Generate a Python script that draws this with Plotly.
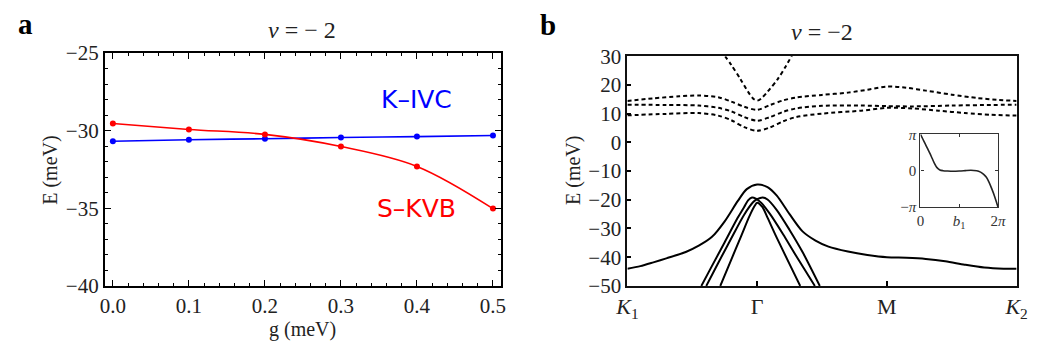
import plotly.graph_objects as go

# ---------------- Panel a data ----------------
g_vals = [0.0, 0.1, 0.2, 0.3, 0.4, 0.5]
kivc_E = [-30.68, -30.58, -30.52, -30.44, -30.38, -30.31]
skvb_E = [-29.54, -29.92, -30.24, -31.02, -32.30, -35.02]

# ---------------- Panel b data (k path: K1=0, Gamma=1, M=2, K2=3) ----------------
# dashed (empty) bands
cV_k = [0.72, 0.80, 0.87, 0.93, 0.97, 1.0, 1.03, 1.08, 1.16, 1.22, 1.29]
cV_E = [32.0, 27.0, 22.1, 17.6, 15.2, 14.5, 15.2, 17.6, 22.1, 26.4, 32.0]

c1_k = [0, 0.2, 0.4, 0.55, 0.7, 0.8, 0.9, 1.0, 1.1, 1.2, 1.3, 1.5, 1.7, 1.85, 2.0, 2.15, 2.3, 2.5, 2.7, 2.85, 3.0]
c1_E = [14.4, 15.3, 16.0, 16.3, 15.7, 14.2, 12.4, 11.3, 13.0, 14.6, 15.6, 16.5, 17.3, 18.3, 19.4, 19.0, 18.0, 16.6, 15.4, 14.8, 14.4]

c2_k = [0, 0.3, 0.55, 0.7, 0.8, 0.9, 1.0, 1.1, 1.2, 1.3, 1.5, 1.8, 2.0, 2.2, 2.5, 2.8, 3.0]
c2_E = [13.1, 13.0, 12.8, 12.0, 10.8, 8.8, 7.5, 8.8, 10.6, 11.8, 12.7, 12.8, 12.6, 12.5, 12.8, 13.0, 13.1]

c3_k = [0, 0.3, 0.55, 0.7, 0.8, 0.9, 1.0, 1.1, 1.2, 1.3, 1.5, 1.8, 2.0, 2.2, 2.4, 2.6, 2.8, 3.0]
c3_E = [9.4, 9.9, 10.2, 9.3, 7.7, 5.3, 4.0, 5.2, 7.3, 8.8, 10.0, 11.0, 12.0, 11.8, 11.0, 10.2, 9.6, 9.3]

# solid (filled) bands
v1_k = [0, 0.1, 0.2, 0.3, 0.45, 0.55, 0.65, 0.75, 0.85, 0.92, 1.0, 1.08, 1.15, 1.25, 1.35, 1.45,
        1.55, 1.7, 1.85, 2.0, 2.15, 2.3, 2.45, 2.6, 2.75, 2.9, 3.0]
v1_E = [-44.0, -43.1, -41.8, -40.4, -38.2, -36.0, -33.0, -27.5, -20.5, -16.3, -14.7, -15.6, -18.5, -25.0,
        -31.0, -34.2, -36.3, -38.0, -39.2, -40.0, -40.2, -40.6, -41.4, -42.6, -43.6, -44.0, -44.0]

v2_k = [0.570, 0.65, 0.75, 0.85, 0.90, 0.93, 0.96, 0.99, 1.03, 1.10, 1.20, 1.30, 1.445]
v2_E = [-50.0, -43.2, -34.8, -26.3, -22.5, -20.2, -19.2, -19.6, -21.0, -25.0, -32.0, -39.5, -50.0]

v3_k = [0.608, 0.70, 0.80, 0.90, 0.97, 1.0, 1.043, 1.08, 1.15, 1.25, 1.35, 1.483]
v3_E = [-50.0, -42.0, -33.5, -25.2, -20.8, -19.8, -19.2, -19.9, -23.5, -30.5, -38.2, -50.0]

v4_k = [0.716, 0.80, 0.88, 0.94, 0.98, 1.0, 1.04, 1.08, 1.15, 1.25, 1.332]
v4_E = [-50.0, -40.9, -32.3, -25.8, -22.2, -21.0, -22.5, -26.2, -33.1, -42.4, -50.0]

# inset (Wilson loop), x in units of pi, y in units of pi
w_x = [0, 0.06, 0.12, 0.18, 0.24, 0.30, 0.36, 0.42, 0.50, 0.58, 0.70, 0.85, 1.0, 1.15, 1.3, 1.45,
       1.55, 1.63, 1.70, 1.77, 1.84, 1.91, 1.97, 2.0]
w_y = [1.0, 0.87, 0.74, 0.61, 0.48, 0.34, 0.20, 0.09, 0.02, 0.0, -0.01, -0.015, -0.01, 0.0, 0.01, 0.0,
       -0.04, -0.10, -0.18, -0.32, -0.50, -0.70, -0.90, -1.0]

kpath_vals = [0, 1, 2, 3]
kpath_text = ["<i>K</i><sub>1</sub>", "Γ", "M", "<i>K</i><sub>2</sub>"]

W, H = 1041, 360
SERIF = "Liberation Serif"
TXT = "#222"

def px_x(v):
    return v / W

def px_y(v):
    return 1 - v / H

fig = go.Figure()

# Panel a traces
fig.add_trace(go.Scatter(x=g_vals, y=kivc_E, mode="lines+markers", line=dict(color="#0000ff", width=1.6, shape="spline"),
                         marker=dict(color="#0000ff", size=6), xaxis="x", yaxis="y", showlegend=False))
fig.add_trace(go.Scatter(x=g_vals, y=skvb_E, mode="lines+markers", line=dict(color="#ff0000", width=1.6, shape="spline"),
                         marker=dict(color="#ff0000", size=6), xaxis="x", yaxis="y", showlegend=False))

# Panel b traces
dash = "4px,3px"
for kk, ee in [(cV_k, cV_E), (c1_k, c1_E), (c2_k, c2_E), (c3_k, c3_E)]:
    fig.add_trace(go.Scatter(x=kk, y=ee, mode="lines", line=dict(color="black", width=2, dash=dash, shape="spline", smoothing=0.8),
                             xaxis="x2", yaxis="y2", showlegend=False))
for kk, ee in [(v1_k, v1_E), (v2_k, v2_E), (v3_k, v3_E), (v4_k, v4_E)]:
    fig.add_trace(go.Scatter(x=kk, y=ee, mode="lines", line=dict(color="black", width=2, shape="spline", smoothing=0.8),
                             xaxis="x2", yaxis="y2", showlegend=False))

# Inset
fig.add_trace(go.Scatter(x=w_x, y=w_y, mode="lines", line=dict(color="#222", width=1.6, shape="spline", smoothing=0.8),
                         xaxis="x3", yaxis="y3", showlegend=False))

tickfont = dict(family=SERIF, size=21, color=TXT)

fig.update_layout(
    width=W, height=H, margin=dict(l=0, r=0, t=0, b=0),
    paper_bgcolor="white", plot_bgcolor="white",
    xaxis=dict(domain=[px_x(95), px_x(500)], range=[-0.0105, 0.5105], tickvals=g_vals, tickformat=".1f",
               ticks="inside", ticklen=6, tickwidth=1, tickcolor="black", mirror="allticks",
               showline=True, linewidth=2, linecolor="black", showgrid=False, zeroline=False,
               minor=dict(dtick=0.02, ticks="inside", ticklen=3, tickcolor="black", showgrid=False),
               tickfont=tickfont, anchor="y"),
    yaxis=dict(domain=[px_y(293.5), px_y(44)], range=[-40, -25], tickvals=[-40, -35, -30, -25],
               ticks="inside", ticklen=6, tickwidth=1, tickcolor="black", mirror="allticks",
               showline=True, linewidth=2, linecolor="black", showgrid=False, zeroline=False,
               minor=dict(dtick=1, ticks="inside", ticklen=3, tickcolor="black", showgrid=False),
               tickfont=tickfont, anchor="x"),
    xaxis2=dict(domain=[px_x(629.3), px_x(1027.3)], range=[0, 3], tickvals=kpath_vals, ticktext=kpath_text,
                ticks="inside", ticklen=5, tickwidth=1.5, tickcolor="black", mirror=True,
                showline=True, linewidth=2, linecolor="#111", showgrid=False, zeroline=False,
                tickfont=dict(family=SERIF, size=22, color=TXT), anchor="y2"),
    yaxis2=dict(domain=[px_y(293.5), px_y(47.3)], range=[-50, 30], tickvals=[-50, -40, -30, -20, -10, 0, 10, 20, 30],
                ticks="inside", ticklen=4, tickwidth=1.5, tickcolor="black", mirror=True,
                showline=True, linewidth=2, linecolor="#111", showgrid=False, zeroline=False,
                tickfont=tickfont, anchor="x2"),
    xaxis3=dict(domain=[px_x(929), px_x(1008.3)], range=[0, 2], tickvals=[0, 1, 2],
                ticktext=["0", "<i>b</i><sub>1</sub>", "2<i>π</i>"],
                ticks="inside", ticklen=3, tickwidth=1, tickcolor="#333", mirror="allticks",
                showline=True, linewidth=1.3, linecolor="#333", showgrid=False, zeroline=False,
                tickfont=dict(family=SERIF, size=15, color="#333"), anchor="y3"),
    yaxis3=dict(domain=[px_y(209), px_y(131)], range=[-1, 1], tickvals=[-1, 0, 1],
                ticktext=["−<i>π</i>", "0", "<i>π</i>"],
                ticks="inside", ticklen=3, tickwidth=1, tickcolor="#333", mirror="allticks",
                showline=True, linewidth=1.3, linecolor="#333", showgrid=False, zeroline=False,
                tickfont=dict(family=SERIF, size=15, color="#333"), anchor="x3"),
)

ann = []
def add_text(x, y, text, size, color=TXT, family=SERIF, angle=0, bold=False):
    if bold:
        text = "<b>" + text + "</b>"
    ann.append(dict(x=px_x(x), y=px_y(y), xref="paper", yref="paper", text=text, showarrow=False,
                    font=dict(family=family, size=size, color=color), textangle=angle,
                    xanchor="center", yanchor="middle"))

add_text(14, 13, "a", 29, color="black", bold=True)
add_text(548, 14, "b", 29, color="black", bold=True)
add_text(297, 19, "<i>ν</i> = − 2", 24)
add_text(828, 21, "<i>ν</i> = −2", 24)
add_text(40, 170, "E (meV)", 20, angle=-90)
add_text(574, 170, "E (meV)", 20, angle=-90)
add_text(297, 340, "g (meV)", 20)
add_text(414, 94, "K–IVC", 25, color="#0000ff", family="DejaVu Sans")
add_text(414, 211, "S–KVB", 25, color="#ff0000", family="DejaVu Sans")
fig.update_layout(annotations=ann)

fig.write_html("out.html")
